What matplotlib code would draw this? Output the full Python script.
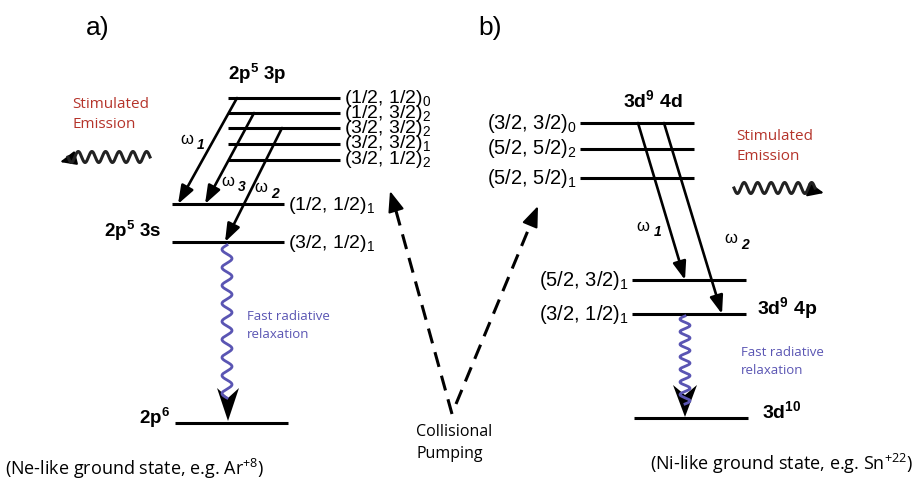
import numpy as np
import matplotlib
matplotlib.use("Agg")
import matplotlib.pyplot as plt
from matplotlib.patches import Polygon

# ---------------------------------------------------------
# level data (vertical position on the drawing, px from top)
# ---------------------------------------------------------
ne_3p_y = [98, 113, 128, 144, 160]
ne_3p_lab = ["(1/2, 1/2)$\\mathregular{_0}$", "(1/2, 3/2)$\\mathregular{_2}$",
             "(3/2, 3/2)$\\mathregular{_2}$", "(3/2, 3/2)$\\mathregular{_1}$",
             "(3/2, 1/2)$\\mathregular{_2}$"]
ne_3s_y = [204, 242]
ne_3s_lab = ["(1/2, 1/2)$\\mathregular{_1}$", "(3/2, 1/2)$\\mathregular{_1}$"]
ne_ground_y = 423

ni_4d_y = [123, 149, 178]
ni_4d_lab = ["(3/2, 3/2)$\\mathregular{_0}$", "(5/2, 5/2)$\\mathregular{_2}$",
             "(5/2, 5/2)$\\mathregular{_1}$"]
ni_4p_y = [280, 314]
ni_4p_lab = ["(5/2, 3/2)$\\mathregular{_1}$", "(3/2, 1/2)$\\mathregular{_1}$"]
ni_ground_y = 418

# lasing transitions: (start x, upper level idx, end x, lower level idx, label)
ne_trans = [(237, 0, 178, 0, "1"), (254, 1, 205, 0, "3"), (282, 2, 225, 1, "2")]
ni_trans = [(638, 0, 685, 0, "1"), (664, 0, 722, 1, "2")]

RED = "#b5342b"
PURPLE = "#5a55b3"
SANS = "Liberation Sans"
MYR = "Open Sans"

fig = plt.figure(figsize=(9.14, 4.79), dpi=100)
ax = fig.add_axes([0, 0, 1, 1])
ax.set_xlim(0, 914)
ax.set_ylim(479, 0)
ax.axis("off")


def level(x0, x1, y):
    ax.plot([x0, x1], [y, y], color="black", lw=2.2, solid_capstyle="butt")


def arrow(x0, y0, x1, y1, scale=20, hl=0.55, hw=0.2, lw=1.9, color="black"):
    ax.annotate("", xy=(x1, y1), xytext=(x0, y0),
                arrowprops=dict(arrowstyle=f"-|>,head_length={hl},head_width={hw}",
                                color=color, lw=lw, mutation_scale=scale,
                                shrinkA=0, shrinkB=0))


def big_head(x, y_tip, length=33, half=11, notch=10):
    # notched arrowhead sitting on a ground level
    pts = [(x, y_tip), (x - half, y_tip - length), (x, y_tip - length + notch),
           (x + half, y_tip - length)]
    ax.add_patch(Polygon(pts, closed=True, color="black", lw=0, zorder=4))


def wave(x0, y0, x1, y1, periods, amp, color, lw=2.0):
    t = np.linspace(0, 1, 600)
    dx, dy = x1 - x0, y1 - y0
    L = np.hypot(dx, dy)
    nx, ny = -dy / L, dx / L
    s = amp * np.sin(2 * np.pi * periods * t)
    ax.plot(x0 + dx * t + nx * s, y0 + dy * t + ny * s, color=color, lw=lw, zorder=5)


# ---------------- panel a) Ne-like ----------------
ax.text(98, 28, "a)", fontsize=19, family=SANS, ha="center", va="center")
for y, lab in zip(ne_3p_y, ne_3p_lab):
    level(228, 340, y)
    ax.text(344, y, lab, fontsize=14, family=SANS, va="center")
for y, lab in zip(ne_3s_y, ne_3s_lab):
    level(172, 284, y)
    ax.text(288, y + 1, lab, fontsize=14, family=SANS, va="center")
level(175, 288, ne_ground_y)

ax.text(228, 74, "2p$\\mathregular{^5}$ 3p", fontsize=13.5, family=SANS,
        weight="bold", va="center")
ax.text(104, 231, "2p$\\mathregular{^5}$ 3s", fontsize=13.5, family=SANS,
        weight="bold", va="center")
ax.text(170, 418, "2p$\\mathregular{^6}$", fontsize=13.5, family=SANS,
        weight="bold", va="center", ha="right")

for xs, iu, xe, il, sub in ne_trans:
    arrow(xs, ne_3p_y[iu], xe, ne_3s_y[il])
ax.text(180, 139, "ω", fontsize=12, family=SANS, va="center")
ax.text(197, 145, "1", fontsize=10, family=SANS, style="italic", weight="bold", va="center")
ax.text(221, 181, "ω", fontsize=12, family=SANS, va="center")
ax.text(238, 187, "3", fontsize=10, family=SANS, style="italic", weight="bold", va="center")
ax.text(254, 188, "ω", fontsize=12, family=SANS, va="center")
ax.text(271, 194, "2", fontsize=10, family=SANS, style="italic", weight="bold", va="center")

ax.text(72, 104, "Stimulated", fontsize=11, family=MYR, color=RED, va="center")
ax.text(72, 124, "Emission", fontsize=11, family=MYR, color=RED, va="center")
wave(150, 157, 68, 157, 6, 5.5, "#222222", lw=2.2)
arrow(68, 160, 60, 162, scale=12, hl=0.8, hw=0.35, lw=1.5)

big_head(228, ne_ground_y - 2)
wave(227, 245, 227, 398, 8.5, 5, PURPLE)
ax.text(247, 317, "Fast radiative", fontsize=9.5, family=MYR, color=PURPLE, va="center")
ax.text(247, 335, "relaxation", fontsize=9.5, family=MYR, color=PURPLE, va="center")

ax.text(5, 469, "(Ne-like ground state, e.g. Ar$\\mathregular{^{+8}}$)",
        fontsize=13, family=MYR, va="center")

# ---------------- collisional pumping ----------------
ax.plot([452, 393], [414, 200], color="black", lw=2.2, ls=(0, (5, 3)))
arrow(394, 204, 390, 191, scale=14, hl=0.9, hw=0.35, lw=1.5)
ax.plot([456, 534], [404, 216], color="black", lw=2.2, ls=(0, (5, 3)))
arrow(533, 218, 538, 206, scale=14, hl=0.9, hw=0.35, lw=1.5)
ax.text(416, 432, "Collisional", fontsize=11.5, family=MYR, va="center")
ax.text(416, 454, "Pumping", fontsize=11.5, family=MYR, va="center")

# ---------------- panel b) Ni-like ----------------
ax.text(490, 28, "b)", fontsize=19, family=SANS, ha="center", va="center")
for y, lab in zip(ni_4d_y, ni_4d_lab):
    level(580, 694, y)
    ax.text(577, y, lab, fontsize=14.5, family=SANS, va="center", ha="right")
for y, lab in zip(ni_4p_y, ni_4p_lab):
    level(632, 746, y)
    ax.text(629, y, lab, fontsize=14.5, family=SANS, va="center", ha="right")
level(634, 748, ni_ground_y)

ax.text(623, 100, "3d$\\mathregular{^9}$ 4d", fontsize=14, family=SANS,
        weight="bold", va="center")
ax.text(757, 308, "3d$\\mathregular{^9}$ 4p", fontsize=14, family=SANS,
        weight="bold", va="center")
ax.text(762, 411, "3d$\\mathregular{^{10}}$", fontsize=14, family=SANS,
        weight="bold", va="center")

for xs, iu, xe, il, sub in ni_trans:
    arrow(xs, ni_4d_y[iu], xe, ni_4p_y[il])
ax.text(636, 226, "ω", fontsize=12, family=SANS, va="center")
ax.text(654, 232, "1", fontsize=10, family=SANS, style="italic", weight="bold", va="center")
ax.text(724, 238, "ω", fontsize=12, family=SANS, va="center")
ax.text(741, 245, "2", fontsize=10, family=SANS, style="italic", weight="bold", va="center")

ax.text(736, 137, "Stimulated", fontsize=11, family=MYR, color=RED, va="center")
ax.text(736, 157, "Emission", fontsize=11, family=MYR, color=RED, va="center")
wave(734, 188, 815, 188, 6, 5.5, "#222222", lw=2.2)
arrow(815, 191, 824, 193, scale=12, hl=0.8, hw=0.35, lw=1.5)

big_head(685, ni_ground_y - 1, length=32, half=12)
wave(685, 316, 685, 404, 7, 5, PURPLE)
ax.text(741, 352, "Fast radiative", fontsize=9.5, family=MYR, color=PURPLE, va="center")
ax.text(741, 370, "relaxation", fontsize=9.5, family=MYR, color=PURPLE, va="center")

ax.text(650, 464, "(Ni-like ground state, e.g. Sn$\\mathregular{^{+22}}$)",
        fontsize=13, family=MYR, va="center")

fig.savefig("out.png", dpi=100)
